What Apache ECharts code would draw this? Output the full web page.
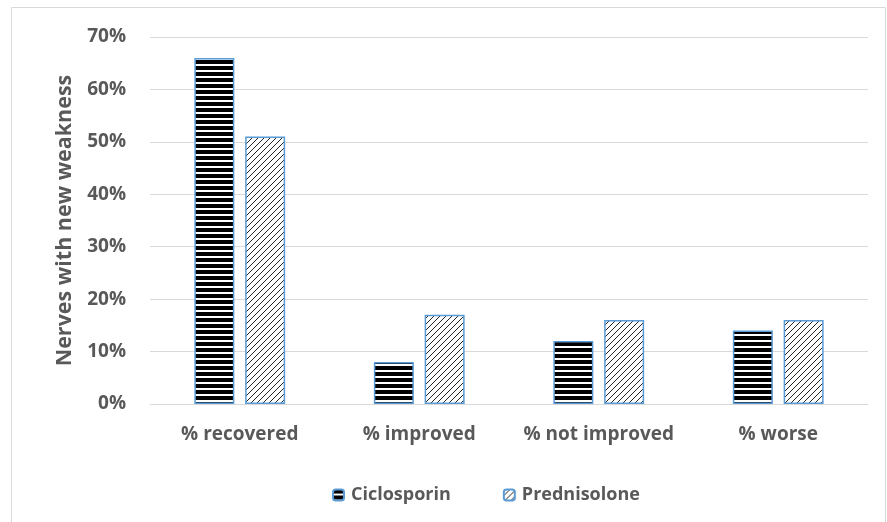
<!DOCTYPE html>
<html>
<head>
<meta charset="utf-8">
<script src="https://cdn.jsdelivr.net/npm/echarts@6/dist/echarts.min.js"></script>
<style>
  html, body { margin: 0; padding: 0; background: #fff; }
  #chart { width: 887px; height: 522px; }
</style>
</head>
<body>
<div id="chart"></div>
<script>
// Outcome categories and share of nerves (%) per treatment
const categories = ['% recovered', '% improved', '% not improved', '% worse'];
const ciclosporin = [66, 8, 12, 14];
const prednisolone = [51, 17, 16, 16];
const seriesNames = ['Ciclosporin', 'Prednisolone'];

// Horizontal black stripes
function stripePattern() {
  const c = document.createElement('canvas');
  c.width = 6; c.height = 6;
  const g = c.getContext('2d');
  g.fillStyle = '#fff';
  g.fillRect(0, 0, 6, 6);
  g.fillStyle = '#000';
  g.fillRect(0, 0, 6, 4);
  return { image: c, repeat: 'repeat' };
}

// Thin dark diagonal hatch
function hatchPattern() {
  const c = document.createElement('canvas');
  c.width = 6; c.height = 6;
  const g = c.getContext('2d');
  g.fillStyle = '#fff';
  g.fillRect(0, 0, 6, 6);
  g.strokeStyle = '#222';
  g.lineWidth = 1;
  g.beginPath();
  g.moveTo(0, 6); g.lineTo(6, 0);
  g.moveTo(-1, 1); g.lineTo(1, -1);
  g.moveTo(5, 7); g.lineTo(7, 5);
  g.stroke();
  return { image: c, repeat: 'repeat' };
}

const font = '"Open Sans", sans-serif';
const textGray = '#595959';
const border = '#5b9bd5';

const chart = echarts.init(document.getElementById('chart'), null, { renderer: 'canvas' });
chart.setOption({
  animation: false,
  backgroundColor: '#fff',
  graphic: [{
    type: 'rect',
    shape: { x: 11.5, y: 7.5, width: 874, height: 530 },
    style: { fill: 'none', stroke: '#d9d9d9', lineWidth: 1 },
    silent: true
  }],
  grid: { left: 150, right: 19, top: 37, bottom: 118 },
  legend: {
    bottom: 13,
    left: 327,
    itemWidth: 11,
    itemHeight: 11,
    itemGap: 52,
    textStyle: { fontFamily: font, fontWeight: 'bold', fontSize: 18, color: textGray, padding: [0, 0, 0, 2] },
    data: seriesNames
  },
  xAxis: {
    type: 'category',
    data: categories,
    axisLine: { lineStyle: { color: '#d9d9d9', width: 1 } },
    axisTick: { show: false },
    axisLabel: { interval: 0, fontFamily: font, fontWeight: 'bold', fontSize: 19, color: textGray, margin: 21 }
  },
  yAxis: {
    type: 'value',
    min: 0,
    max: 70,
    interval: 10,
    name: 'Nerves with new weakness',
    nameLocation: 'middle',
    nameGap: 74,
    nameTextStyle: { fontFamily: font, fontWeight: 'bold', fontSize: 21.5, color: textGray },
    axisLine: { show: false },
    axisTick: { show: false },
    axisLabel: { formatter: '{value}%', fontFamily: font, fontWeight: 'bold', fontSize: 19, color: textGray, margin: 24 },
    splitLine: { lineStyle: { color: '#d9d9d9', width: 1 } }
  },
  series: [
    {
      name: seriesNames[0],
      type: 'bar',
      data: ciclosporin,
      barWidth: 40,
      barGap: '27%',
      itemStyle: { color: stripePattern(), borderColor: border, borderWidth: 1.5 }
    },
    {
      name: seriesNames[1],
      type: 'bar',
      data: prednisolone,
      barWidth: 40,
      itemStyle: { color: hatchPattern(), borderColor: border, borderWidth: 1.5 }
    }
  ]
});
</script>
</body>
</html>
